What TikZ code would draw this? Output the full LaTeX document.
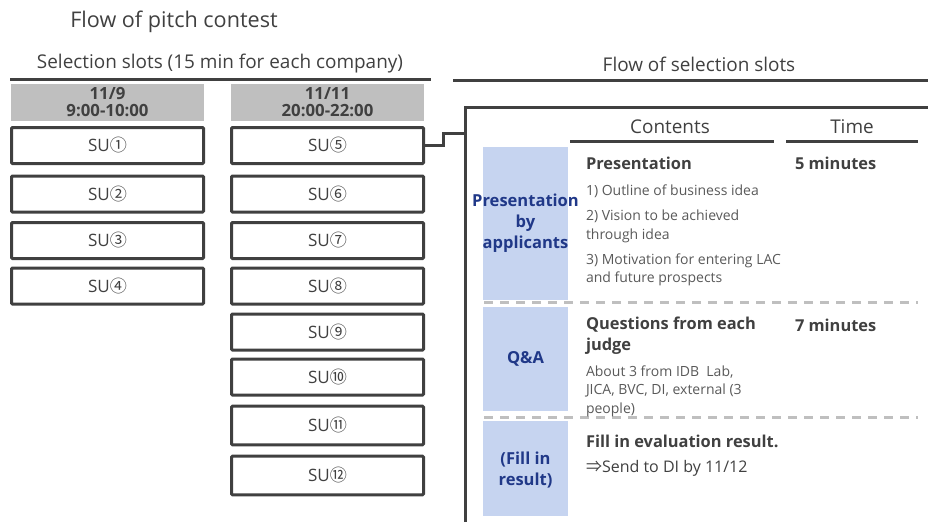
\documentclass[tikz,border=0pt]{standalone}
\usepackage{fontspec}
\setmainfont{Open Sans}
\newfontfamily\cjkfont{Noto Sans CJK JP}
\definecolor{linecol}{RGB}{64,64,64}
\definecolor{textcol}{RGB}{64,64,64}
\definecolor{smallcol}{RGB}{89,89,89}
\definecolor{navy}{RGB}{32,56,136}
\definecolor{bluefill}{RGB}{198,212,240}
\definecolor{headfill}{RGB}{191,191,191}
\definecolor{dashcol}{RGB}{191,191,191}
\newcommand\cn[1]{{\cjkfont #1}}
\begin{document}
\begin{tikzpicture}[x=0.75pt,y=-0.75pt,
  every node/.style={inner sep=0pt,outer sep=0pt,text=textcol},
  rule/.style={draw=linecol,line width=2.25pt},
  slot/.style={draw=linecol,line width=2.25pt,rounded corners=0.8pt,fill=white,
    minimum width=144pt,minimum height=27pt,font=\fontsize{12.8pt}{14pt}\selectfont},
  dayhead/.style={fill=headfill,minimum width=145pt,minimum height=28pt,align=center,
    font=\fontsize{12.6pt}{12.75pt}\selectfont\bfseries},
  stage/.style={fill=bluefill,minimum width=63.75pt},
  stagelabel/.style={align=center,text=navy,font=\fontsize{12.4pt}{15.75pt}\selectfont\bfseries},
  sep/.style={draw=dashcol,line width=2.25pt,dash pattern=on 7pt off 5pt},
  head/.style={font=\fontsize{14.2pt}{16pt}\selectfont},
  bold/.style={anchor=west,align=left,font=\fontsize{12.3pt}{15.75pt}\selectfont\bfseries},
  small/.style={anchor=west,align=left,text=smallcol,font=\fontsize{10.5pt}{13.8pt}\selectfont}]
\useasboundingbox (0,0) rectangle (928,522);

% titles and section rules
\node[font=\fontsize{16.2pt}{18pt}\selectfont] (title) at (174,22) {Flow of pitch contest};
\node[head] (lefthead) at (220,64) {Selection slots (15 min for each company)};
\node[head] (righthead) at (699,64) {Flow of selection slots};
\draw[rule] (10,79) -- (431,79);
\draw[rule] (453,80) -- (928,80);

% day headers
\node[dayhead] (day1) at (107.5,102.5) {11/9\\9:00-10:00};
\node[dayhead] (day2) at (327.5,102.5) {11/11\\20:00-22:00};

% slots, first day
\node[slot] (su1) at (107.5,145.5) {SU\cn{①}};
\node[slot] (su2) at (107.5,194) {SU\cn{②}};
\node[slot] (su3) at (107.5,240.5) {SU\cn{③}};
\node[slot] (su4) at (107.5,286) {SU\cn{④}};
% slots, second day
\node[slot] (su5) at (327.5,145.5) {SU\cn{⑤}};
\node[slot] (su6) at (327.5,194) {SU\cn{⑥}};
\node[slot] (su7) at (327.5,240.5) {SU\cn{⑦}};
\node[slot] (su8) at (327.5,286) {SU\cn{⑧}};
\node[slot] (su9) at (327.5,332) {SU\cn{⑨}};
\node[slot] (su10) at (327.5,377) {SU\cn{⑩}};
\node[slot,minimum height=29pt] (su11) at (327.5,425.5) {SU\cn{⑪}};
\node[slot,minimum height=29pt] (su12) at (327.5,475.5) {SU\cn{⑫}};

% open frame around the flow
\coordinate (framebot) at (465,522);
\coordinate (frametop) at (465,107);
\coordinate (frameend) at (928,107);
\coordinate (framein) at (465,133);
\draw[rule] (framebot) -- (frametop) -- (frameend);
\draw[rule] (su5.east) -- ++(20,0) |- (framein);

% column headers
\node[head] (contents) at (670,127) {Contents};
\node[head] (time) at (852,127) {Time};
\draw[rule] (570,141) -- (774,141);
\draw[rule] (786,141) -- (918,141);

% stages
\node[stage,minimum height=114.75pt] (st1) at (525.5,223.5) {};
\node[stage,minimum height=78pt] (st2) at (525.5,359) {};
\node[stage,minimum height=71.25pt] (st3) at (525.5,468.5) {};
\node[stagelabel] (st1l) at (st1.center) {Presentation\\by\\applicants};
\node[stagelabel] (st2l) at (st2.center) {Q\&A};
\node[stagelabel] (st3l) at (525.5,470) {(Fill in\\result)};

% separators
\draw[sep] (484,302) -- (918,302);
\draw[sep] (484,417) -- (918,417);

% stage 1 contents
\node[bold] (p1) at (586,163) {Presentation};
\node[bold] (p1t) at (795,163) {5 minutes};
\node[small] (p1a) at (586,191) {1) Outline of business idea};
\node[small] (p1b) at (586,226.5) {2) Vision to be achieved\\through idea};
\node[small] (p1c) at (586,270) {3) Motivation for entering LAC\\and future prospects};

% stage 2 contents
\node[bold] (q1) at (586,335.5) {Questions from each\\judge};
\node[bold] (q1t) at (795,325) {7 minutes};
\node[small] (q1a) at (586,391) {About 3 from IDB\ \ Lab,\\JICA, BVC, DI, external (3\\people)};

% stage 3 contents
\node[bold] (r1) at (586,441) {Fill in evaluation result.};
\node[anchor=west,font=\fontsize{12pt}{14pt}\selectfont] (r1a) at (586,468) {\cn{⇒}Send to DI by 11/12};
\end{tikzpicture}
\end{document}
